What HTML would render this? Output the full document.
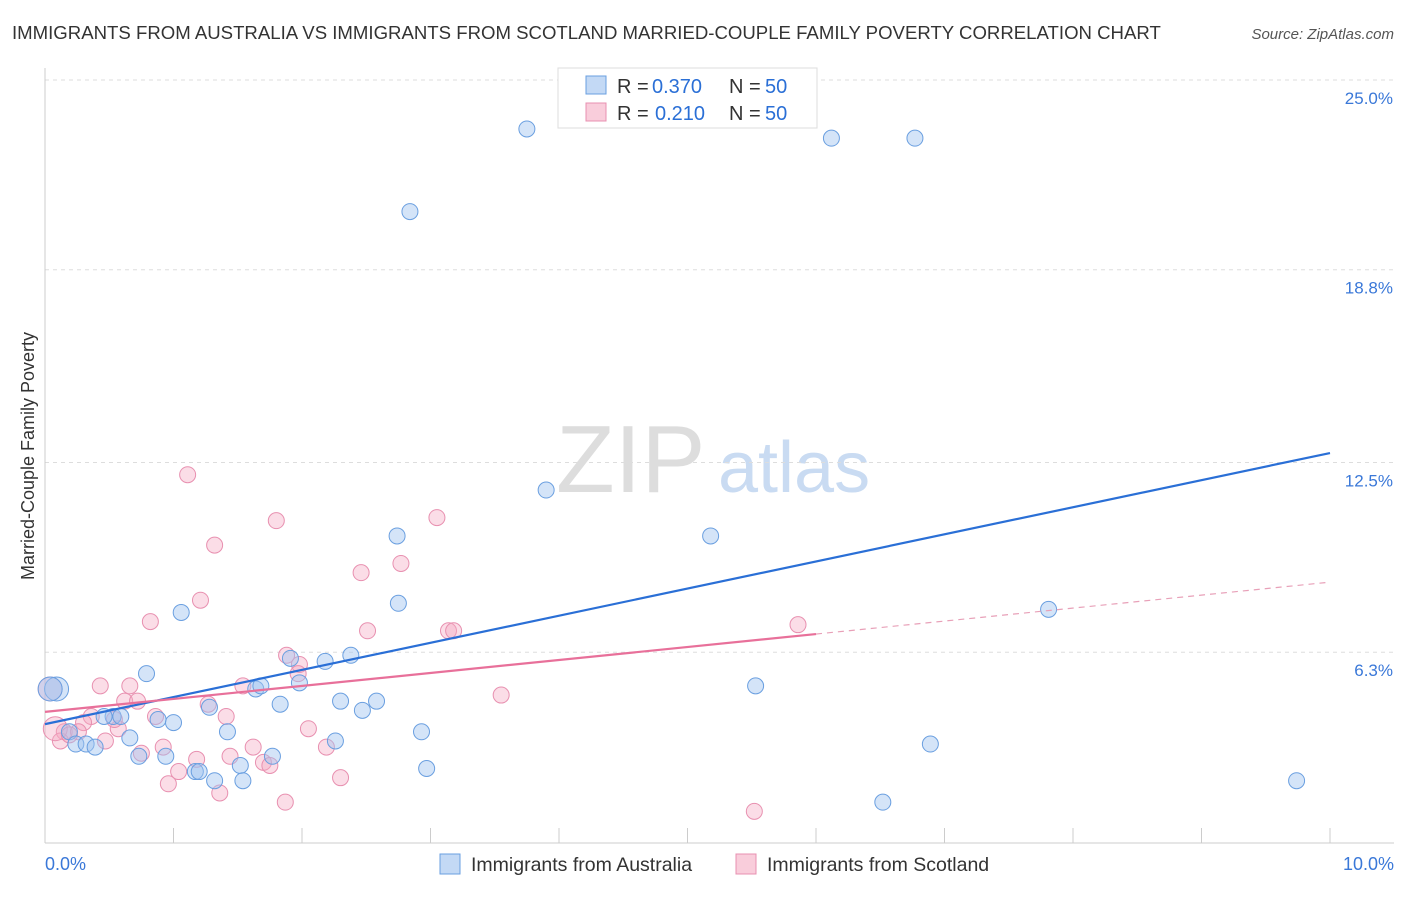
<!DOCTYPE html>
<html><head><meta charset="utf-8">
<style>
body{margin:0;background:#fff;font-family:"Liberation Sans",sans-serif;}
svg text{font-family:"Liberation Sans",sans-serif;}
</style></head>
<body>
<svg id="chart" width="1406" height="892">
<text x="12" y="39" font-size="18.6" fill="#333">IMMIGRANTS FROM AUSTRALIA VS IMMIGRANTS FROM SCOTLAND MARRIED-COUPLE FAMILY POVERTY CORRELATION CHART</text>
<text x="1394" y="39" font-size="15" fill="#555" text-anchor="end" font-style="italic">Source: ZipAtlas.com</text>
<text x="34" y="456" font-size="18" fill="#333" text-anchor="middle" transform="rotate(-90 34 456)">Married-Couple Family Poverty</text>
<text x="556" y="492" font-size="96" fill="#ddd" font-family="Liberation Serif">ZIP</text>
<text x="718" y="492" font-size="72" fill="#c9dbf2">atlas</text>
<g id="grid"></g><g id="axes"></g><g id="pts"></g><g id="lines"></g>
<g>
<rect x="558" y="68" width="259" height="60" fill="#fff" stroke="#ddd"/>
<rect x="586" y="76" width="20" height="18" fill="#c3d9f5" stroke="#6a9fe0"/>
<text x="617" y="93" font-size="20" fill="#333">R =</text>
<text x="652" y="93" font-size="20" fill="#2a6fd6">0.370</text>
<text x="729" y="93" font-size="20" fill="#333">N =</text>
<text x="765" y="93" font-size="20" fill="#2a6fd6">50</text>
<rect x="586" y="103" width="20" height="18" fill="#f9cddb" stroke="#e890b0"/>
<text x="617" y="120" font-size="20" fill="#333">R =</text>
<text x="655" y="120" font-size="20" fill="#2a6fd6">0.210</text>
<text x="729" y="120" font-size="20" fill="#333">N =</text>
<text x="765" y="120" font-size="20" fill="#2a6fd6">50</text>
</g>
<g>
<rect x="440" y="854" width="20" height="20" fill="#c3d9f5" stroke="#6a9fe0"/>
<text x="471" y="871" font-size="19.5" fill="#333">Immigrants from Australia</text>
<rect x="736" y="854" width="20" height="20" fill="#f9cddb" stroke="#e890b0"/>
<text x="767" y="871" font-size="19.5" fill="#333">Immigrants from Scotland</text>
</g>
</svg>
<script>
const yTicks=[25.0,18.8,12.5,6.3];
const yTickLabels=["25.0%","18.8%","12.5%","6.3%"];
const xTickVals=[0,1,2,3,4,5,6,7,8,9,10];
const blueX=[3.75,6.12,6.77,2.84,3.90,5.18,2.74,2.75,1.06,7.81,0.79,1.91,2.18,2.38,0.09,0.04,1.64,1.68,1.98,1.83,2.30,2.58,2.47,5.53,0.53,0.46,0.59,0.88,1.00,1.28,1.42,0.66,0.19,0.24,0.32,0.39,0.73,0.94,1.17,1.20,1.32,1.52,1.54,1.77,2.26,2.93,2.97,6.89,6.52,9.74];
const blueY=[23.4,23.1,23.1,20.7,11.6,10.1,10.1,7.9,7.6,7.7,5.6,6.1,6.0,6.2,5.1,5.1,5.1,5.2,5.3,4.6,4.7,4.7,4.4,5.2,4.2,4.2,4.2,4.1,4.0,4.5,3.7,3.5,3.7,3.3,3.3,3.2,2.9,2.9,2.4,2.4,2.1,2.6,2.1,2.9,3.4,3.7,2.5,3.3,1.4,2.1];
const pinkX=[1.11,1.80,3.05,1.32,2.46,2.77,1.21,0.82,2.51,3.14,3.18,5.86,1.88,1.98,1.97,0.43,0.66,1.54,0.62,0.72,1.27,1.41,0.86,0.36,0.57,0.30,0.15,0.26,0.12,0.47,0.92,0.75,1.18,1.44,1.62,1.70,1.75,2.05,2.19,2.30,1.04,0.96,1.36,1.87,3.55,5.52,0.04,0.08,0.19,0.54];
const pinkY=[12.1,10.6,10.7,9.8,8.9,9.2,8.0,7.3,7.0,7.0,7.0,7.2,6.2,5.9,5.6,5.2,5.2,5.2,4.7,4.7,4.6,4.2,4.2,4.2,3.8,4.0,3.7,3.7,3.4,3.4,3.2,3.0,2.8,2.9,3.2,2.7,2.6,3.8,3.2,2.2,2.4,2.0,1.7,1.4,4.9,1.1,5.1,3.8,3.6,4.1];
const blueLine=[3.95,12.81];
const pinkLine=[4.35,8.59];
const pinkSolidEnd=6.0;

const NS="http://www.w3.org/2000/svg";
const xs=v=>45+v*128.5, ys=v=>845-v*30.6;
function mk(tag,attrs,parent){const e=document.createElementNS(NS,tag);for(const k in attrs)e.setAttribute(k,attrs[k]);document.getElementById(parent).appendChild(e);return e;}
yTicks.forEach((t,i)=>{
 const g=mk('line',{x1:45,x2:1394,y1:ys(t),y2:ys(t),stroke:'#ddd','stroke-dasharray':'4,4'},'grid');
 
 
 const l=mk('text',{x:1393,y:ys(t)+24,'font-size':17,fill:'#3a78d8','text-anchor':'end'},'grid');
 l.textContent=yTickLabels[i];
 
 
});
const ax=mk('line',{x1:45,x2:1394,y1:843,y2:843,stroke:'#ccc'},'axes');


const ay=mk('line',{x1:45,x2:45,y1:68,y2:843,stroke:'#ccc'},'axes');


xTickVals.forEach(v=>{
 const t=mk('line',{x1:xs(v),x2:xs(v),y1:828,y2:843,stroke:'#ccc'},'axes');
 
 
});
const x0=mk('text',{x:45,y:870,'font-size':18,fill:'#3a78d8'},'axes');x0.textContent='0.0%';


const x1=mk('text',{x:1394,y:870,'font-size':18,fill:'#3a78d8','text-anchor':'end'},'axes');x1.textContent='10.0%';


function pts(X,Y,fill,stroke,name){X.forEach((x,i)=>{
 const r=(x<0.1)?12:8;
 const c=mk('circle',{cx:xs(x),cy:ys(Y[i]),r:r,fill:fill,stroke:stroke,'stroke-width':1},'pts');
 
 
});}
pts(pinkX,pinkY,'rgba(245,170,195,0.4)','#e890b0','scotland-point');
pts(blueX,blueY,'rgba(160,196,240,0.45)','#6a9fe0','australia-point');
const bl=mk('line',{x1:xs(0),y1:ys(blueLine[0]),x2:xs(10),y2:ys(blueLine[1]),stroke:'#2a6fd6','stroke-width':2.2},'lines');


const pm=pinkLine[0]+(pinkLine[1]-pinkLine[0])*pinkSolidEnd/10;
const pl=mk('line',{x1:xs(0),y1:ys(pinkLine[0]),x2:xs(pinkSolidEnd),y2:ys(pm),stroke:'#e8709a','stroke-width':2.2},'lines');


const pd=mk('line',{x1:xs(pinkSolidEnd),y1:ys(pm),x2:xs(10),y2:ys(pinkLine[1]),stroke:'#e8a0b8','stroke-width':1.2,'stroke-dasharray':'6,5'},'lines');


</script>
</body></html>
